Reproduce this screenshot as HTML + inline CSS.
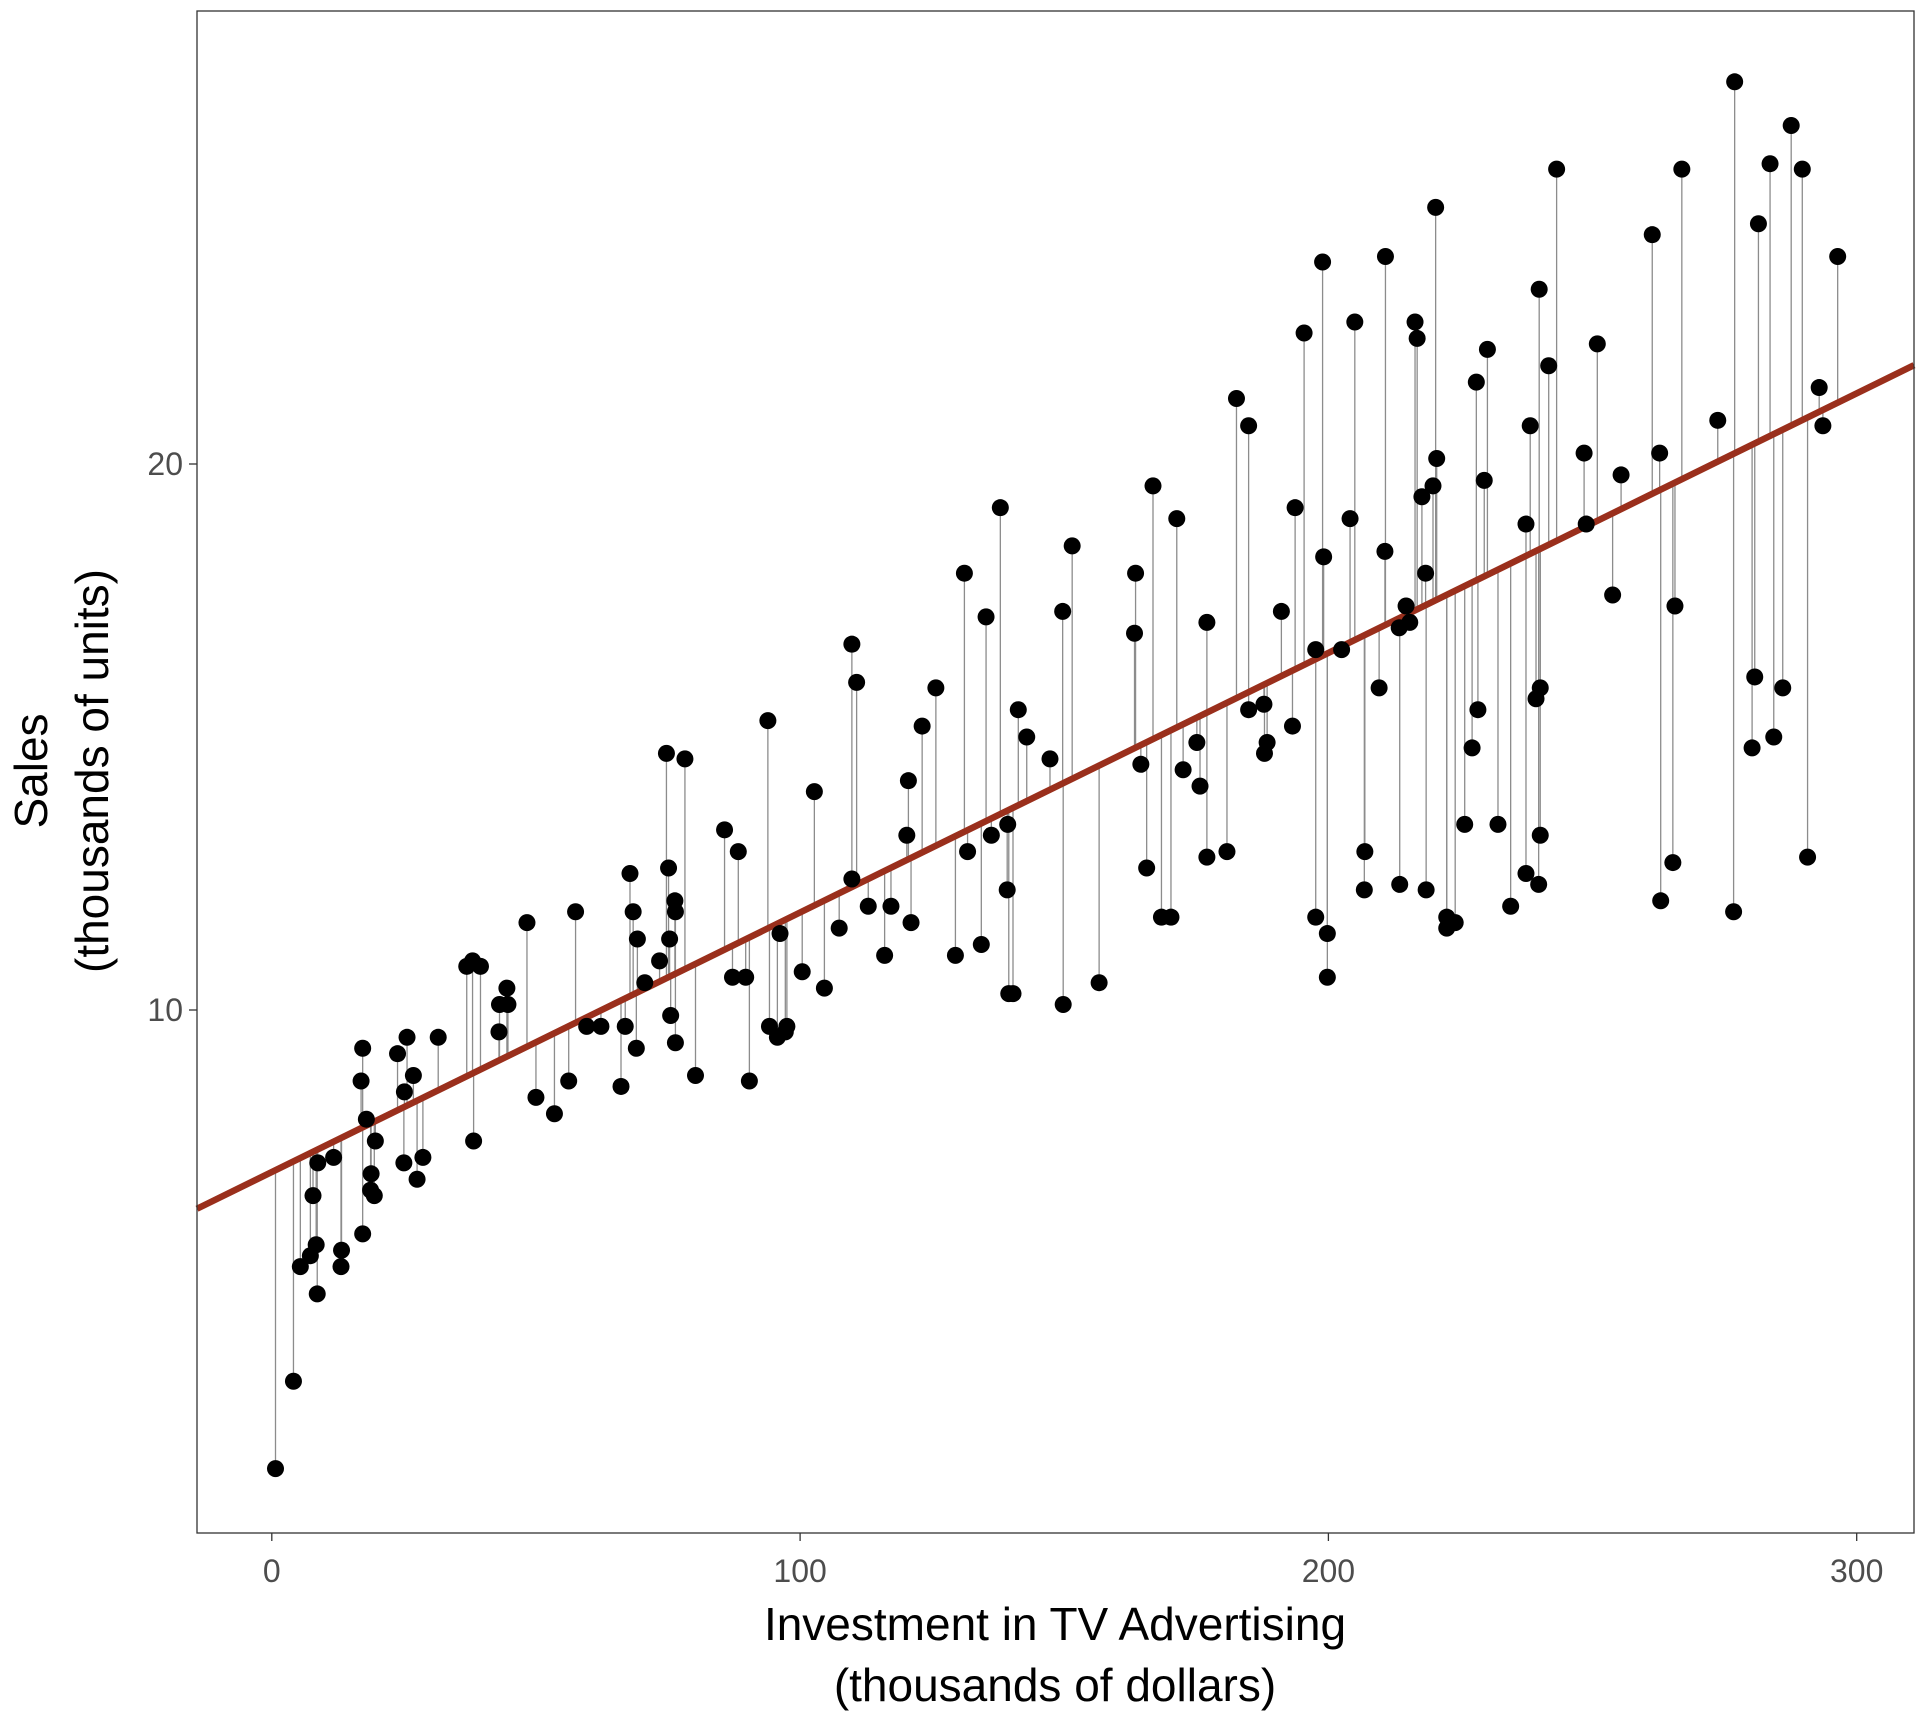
<!DOCTYPE html>
<html><head><meta charset="utf-8"><style>
html,body{margin:0;padding:0;background:#fff;}
svg{display:block;font-family:"Liberation Sans",sans-serif;}
</style></head><body>
<svg id="s" width="1920" height="1728" viewBox="0 0 1920 1728" xmlns="http://www.w3.org/2000/svg">
<rect x="0" y="0" width="1920" height="1728" fill="#fff"/>
<g id="segs" stroke="#8c8c8c" stroke-width="1.3"></g>
<g id="line"></g>
<g id="pts" fill="#000"></g>
<rect x="197" y="11" width="1717" height="1522" fill="none" stroke="#333" stroke-width="1.3"/>
<g stroke="#333" stroke-width="1.3">
<line x1="271.8" y1="1533" x2="271.8" y2="1541"/>
<line x1="800.1" y1="1533" x2="800.1" y2="1541"/>
<line x1="1328.4" y1="1533" x2="1328.4" y2="1541"/>
<line x1="1856.7" y1="1533" x2="1856.7" y2="1541"/>
<line x1="189" y1="464" x2="197" y2="464"/>
<line x1="189" y1="1010" x2="197" y2="1010"/>
</g>
<g fill="#4d4d4d" font-size="32" text-anchor="middle">
<text x="271.8" y="1582">0</text>
<text x="800.1" y="1582">100</text>
<text x="1328.4" y="1582">200</text>
<text x="1856.7" y="1582">300</text>
<text x="183" y="475" text-anchor="end">20</text>
<text x="183" y="1021" text-anchor="end">10</text>
</g>
<g fill="#000" font-size="46" text-anchor="middle">
<text x="1055" y="1640">Investment in TV Advertising</text>
<text x="1055" y="1701">(thousands of dollars)</text>
<text transform="translate(47,771) rotate(-90)">Sales</text>
<text transform="translate(108,771) rotate(-90)">(thousands of units)</text>
</g>
</svg>
<script>
var d=[230.1,22.1,44.5,10.4,17.2,9.3,151.5,18.5,180.8,12.9,8.7,7.2,57.5,11.8,120.2,13.2,8.6,4.8,199.8,10.6,66.1,8.6,214.7,17.4,23.8,9.2,97.5,9.7,204.1,19,195.4,22.4,67.8,12.5,281.4,24.4,69.2,11.3,147.3,14.6,218.4,18,237.4,12.5,13.2,5.6,228.3,15.5,62.3,9.7,262.9,12,142.9,15,240.1,15.9,248.8,18.9,70.6,10.5,292.9,21.4,112.9,11.9,97.2,9.6,265.6,17.4,95.7,9.5,290.7,12.8,266.9,25.4,74.7,14.7,43.1,10.1,228,21.5,202.5,16.6,177,17.1,293.6,20.7,206.9,12.9,25.1,8.5,175.1,14.9,89.7,10.6,239.9,23.2,227.2,14.8,66.9,9.7,199.8,11.4,100.4,10.7,216.4,22.6,182.6,21.2,262.7,20.2,198.9,23.7,7.3,5.5,136.2,13.2,210.8,23.8,210.7,18.4,53.5,8.1,261.3,24.2,239.3,15.7,102.7,14,131.1,18,69,9.3,31.5,9.5,139.3,13.4,237.4,18.9,216.8,22.3,199.1,18.3,109.8,12.4,26.8,8.8,129.4,11,213.4,17,16.9,8.7,27.5,6.9,120.5,14.2,5.4,5.3,116,11,76.4,11.8,239.8,12.3,75.3,11.3,68.4,11.8,213.5,12.3,193.2,15.2,76.3,12,110.7,16,88.3,12.9,109.8,16.7,134.3,11.2,28.6,7.3,217.7,19.4,250.9,22.2,107.4,11.5,163.3,16.9,197.6,11.7,184.9,15.5,289.7,25.4,135.2,17.2,222.4,11.7,296.4,23.8,280.2,14.8,187.9,14.7,238.2,20.7,137.9,19.2,25,7.2,90.4,8.7,13.1,5.3,255.4,19.8,225.8,13.4,241.7,21.8,175.7,14.1,209.6,15.9,78.2,14.6,75.1,12.6,139.2,12.2,76.4,9.4,125.7,15.9,19.4,6.6,141.3,15.5,18.8,7,224,11.6,123.1,15.2,229.5,19.7,87.2,10.6,7.8,6.6,80.2,8.8,220.3,24.7,59.6,9.7,0.7,1.6,265.2,12.7,8.4,5.7,219.8,19.6,36.9,10.8,48.3,11.6,25.6,9.5,273.7,20.8,43,9.6,184.9,20.7,73.4,10.9,193.7,19.2,220.5,20.1,104.6,10.4,96.2,11.4,140.3,10.3,240.1,13.2,243.2,25.4,38,10.9,44.7,10.1,280.7,16.1,121,11.6,197.6,16.6,171.3,19,187.8,15.6,4.1,3.2,93.9,15.3,149.8,10.1,11.7,7.3,131.7,12.9,172.5,14.4,85.7,13.3,188.4,14.9,163.5,18,117.2,11.9,234.5,11.9,17.9,8,206.8,12.2,215.4,17.1,284.3,15,50,8.4,164.5,14.5,19.6,7.6,168.4,11.7,222.4,11.5,276.9,27,248.4,20.2,170.2,11.7,276.7,11.8,165.6,12.6,156.6,10.5,218.5,12.2,56.2,8.7,287.6,26.2,253.8,17.6,205,22.6,139.5,10.3,191.1,17.3,286,15.9,18.7,6.7,39.5,10.8,75.5,9.9,17.2,5.9,166.8,19.6,149.7,17.3,38.2,7.6,94.2,9.7,177,12.8,283.6,25.5,232.1,13.4];
function X(v){return 271.8+v*5.283;}
function Y(v){return 1010-(v-10)*54.6;}
function F(t){return 7.0326+0.047537*t;}
var ns="http://www.w3.org/2000/svg",sg=document.getElementById('segs'),pg=document.getElementById('pts');
for(var i=0;i<d.length;i+=2){var t=d[i],s=d[i+1];
var l=document.createElementNS(ns,'line');l.setAttribute('x1',X(t));l.setAttribute('x2',X(t));l.setAttribute('y1',Y(s));l.setAttribute('y2',Y(F(t)));sg.appendChild(l);
var c=document.createElementNS(ns,'circle');c.setAttribute('cx',X(t));c.setAttribute('cy',Y(s));c.setAttribute('r',8.5);pg.appendChild(c);}
var t0=(197-271.8)/5.283,t1=(1914-271.8)/5.283;
var L=document.createElementNS(ns,'line');L.setAttribute('x1',197);L.setAttribute('y1',Y(F(t0)));L.setAttribute('x2',1914);L.setAttribute('y2',Y(F(t1)));L.setAttribute('stroke','#9a2f1c');L.setAttribute('stroke-width','6.5');document.getElementById('line').appendChild(L);
</script>
</body></html>
